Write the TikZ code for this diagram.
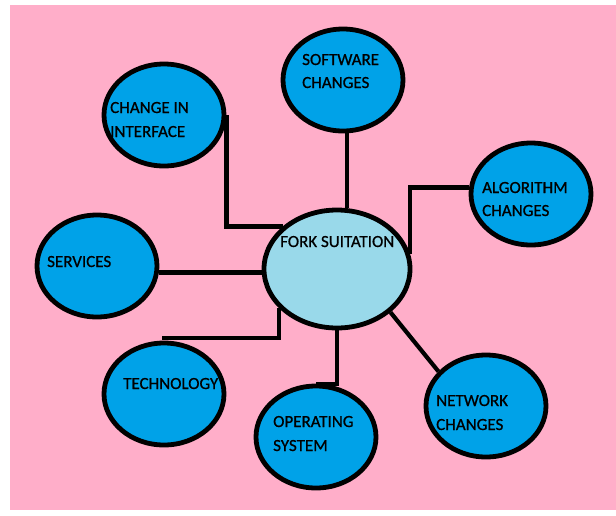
\documentclass[tikz,border=0pt]{standalone}
\usepackage{fontspec}
\setmainfont{Carlito}
\newfontfamily\lblfont[FakeBold=0.8]{Carlito}
\usetikzlibrary{shapes.geometric}
\definecolor{bgpink}{RGB}{255,174,201}
\definecolor{bubble}{RGB}{0,162,232}
\definecolor{hub}{RGB}{153,217,234}
\tikzset{
  bub/.style={ellipse, draw=black, line width=4.8pt, fill=bubble, inner sep=0pt, minimum width=120, minimum height=102},
  hubshape/.style={ellipse, draw=black, line width=4.8pt, fill=hub, inner sep=0pt, minimum width=146, minimum height=118},
  lbl/.style={anchor=base west, inner sep=0pt, font=\lblfont\fontsize{17}{24}\selectfont, text=black},
  conn/.style={draw=black, line width=4.2pt}
}
\begin{document}
\begin{tikzpicture}[x=1pt,y=-1pt]
\useasboundingbox (0,0) rectangle (616,515);
\fill[white] (0,0) rectangle (616,515);
\fill[bgpink] (10,5) rectangle (616,510);
% bubbles
\node[bub] (soft) at (343,80) {};
\node[bub] (iface) at (164,115) {};
\node[bub] (algo) at (531,194) {};
\node[bub] (serv) at (97,266) {};
\node[hubshape] (fork) at (337,269) {};
\node[bub] (tech) at (164,394) {};
\node[bub] (op) at (316,437) {};
\node[bub] (net) at (486,406) {};
% connectors
\coordinate (t1) at (162,338);
\draw[conn] (iface.east) |- (fork.142.6);
\draw[conn] ([xshift=4pt]soft.south) -- ([xshift=4pt]soft.south |- fork.north);
\draw[conn] (algo.174) -| (fork.12);
\draw[conn] (serv.-6) -- (serv.-6 -| fork.west);
\draw[conn] (t1) -| (fork.-146);
\draw[conn] (fork.south) |- (op.north);
\draw[conn] (fork.-39) -- (net.144);
% labels
\node[lbl] (softA) at (302,65) {SOFTWARE};
\node[lbl] (softB) at (302,88) {CHANGES};
\node[lbl] (ifaceA) at (110,113) {CHANGE IN};
\node[lbl] (ifaceB) at (110,137) {INTERFACE};
\node[lbl] (algoA) at (482,193) {ALGORITHM};
\node[lbl] (algoB) at (482,216) {CHANGES};
\node[lbl] (servA) at (47,267) {SERVICES};
\node[lbl] (forkA) at (280,247) {FORK SUITATION};
\node[lbl] (techA) at (123,389) {TECHNOLOGY};
\node[lbl] (opA) at (273,427) {OPERATING};
\node[lbl] (opB) at (273,451) {SYSTEM};
\node[lbl] (netA) at (436,406) {NETWORK};
\node[lbl] (netB) at (436,430) {CHANGES};
\end{tikzpicture}
\end{document}
